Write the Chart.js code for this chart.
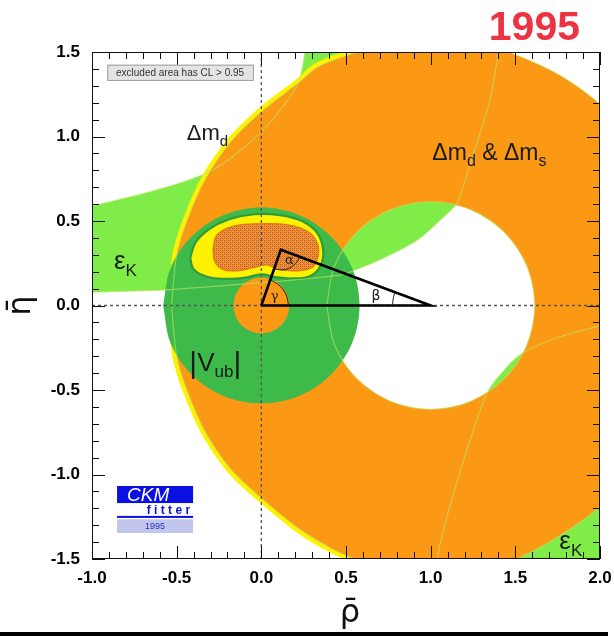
<!DOCTYPE html>
<html>
<head>
<meta charset="utf-8">
<style>
  html, body { margin: 0; padding: 0; background: #ffffff; }
  canvas { display: block; }
</style>
<script src="https://cdn.jsdelivr.net/npm/chart.js@4.4.1/dist/chart.umd.min.js"></script>
</head>
<body>
<canvas id="ckm" width="614" height="636"></canvas>
<script>
// ---- axis ticks -------------------------------------------------------------
const rhoTicks = [-1.0, -0.5, 0.0, 0.5, 1.0, 1.5, 2.0];
const etaTicks = [-1.5, -1.0, -0.5, 0.0, 0.5, 1.0, 1.5];

// ---- constraint contours in the (rho-bar, eta-bar) plane, as [rho, eta] -------
// epsilon_K band, eta > 0 branch: upper edge (left -> top), lower edge (top -> left)
const epsKUpperEdgeA = [[-1.10,0.57],[-1.00,0.59],[-0.85,0.625],[-0.65,0.675],[-0.45,0.735],
  [-0.29,0.80],[-0.12,0.92],[0.03,1.06],[0.13,1.18],[0.217,1.316],[0.258,1.50],[0.265,1.60]];
const epsKLowerEdgeA = [[1.41,1.60],[1.392,1.446],[1.351,1.216],[1.321,1.115],[1.26,0.92],
  [1.203,0.742],[1.156,0.606],[1.056,0.505],[0.92,0.386],[0.72,0.28],[0.524,0.198],[0.465,0.18],
  [0.20,0.152],[0.00,0.135],[-0.30,0.112],[-0.57,0.092],[-1.00,0.078],[-1.10,0.075]];
// epsilon_K band, eta < 0 branch: inner edge and the far corner
const epsKUpperEdgeB = [[2.20,-0.08],[2.00,-0.12],[1.764,-0.185],[1.546,-0.28],[1.44,-0.375],
  [1.333,-0.518],[1.233,-0.796],[1.13,-1.13],[1.07,-1.35],[1.036,-1.516],[1.025,-1.62]];
const epsKCornerB = [[2.20,-1.62]];

// Delta m_d alone: outer edge and inner edge of the visible rim
const dmdOuter = [[-0.555,0],[-0.525,-0.305],[-0.464,-0.508],[-0.352,-0.762],[-0.199,-0.986],
  [-0.017,-1.159],[0.207,-1.341],[0.39,-1.453],[0.543,-1.524],[0.797,-1.605],[1.05,-1.60],
  [1.30,-1.56],[1.50,-1.48],[1.73,-1.35],[1.98,-1.17],[2.28,-0.84],[2.48,-0.44],[2.54,0],
  [2.48,0.44],[2.28,0.84],[1.98,1.17],[1.73,1.35],[1.44,1.48],[1.20,1.56],[0.90,1.57],
  [0.563,1.524],[0.324,1.436],[0.204,1.337],[-0.017,1.166],[-0.199,0.986],[-0.352,0.762],
  [-0.464,0.508],[-0.525,0.305],[-0.555,0]];
const dmdInner = [[-0.48,0],[-0.366,0.574],[-0.041,1.061],[0.446,1.386],[1.02,1.50],[1.594,1.386],
  [2.081,1.061],[2.406,0.574],[2.52,0],[2.406,-0.574],[2.081,-1.061],[1.594,-1.386],[1.02,-1.50],
  [0.446,-1.386],[-0.041,-1.061],[-0.366,-0.574],[-0.48,0]];

// Delta m_d & Delta m_s: outer edge and the excluded hole around (1, 0)
const dmOuter = [[-0.53,0],[-0.50,-0.30],[-0.44,-0.50],[-0.33,-0.75],[-0.18,-0.97],[0.0,-1.14],
  [0.22,-1.32],[0.40,-1.43],[0.55,-1.50],[0.80,-1.58],[1.05,-1.62],[1.30,-1.58],[1.51,-1.50],
  [1.75,-1.37],[2.0,-1.19],[2.3,-0.85],[2.5,-0.45],[2.56,0],[2.5,0.45],[2.3,0.85],[2.0,1.19],
  [1.75,1.37],[1.46,1.50],[1.20,1.58],[0.90,1.585],[0.57,1.50],[0.335,1.413],[0.217,1.316],
  [0.0,1.147],[-0.18,0.97],[-0.33,0.75],[-0.44,0.50],[-0.50,0.30],[-0.53,0]];
const dmHole = [[0.386,0],[0.433,0.235],[0.566,0.434],[0.765,0.567],[1.0,0.614],[1.235,0.567],
  [1.434,0.434],[1.567,0.235],[1.614,0],[1.567,-0.235],[1.434,-0.434],[1.235,-0.567],[1.0,-0.614],
  [0.765,-0.567],[0.566,-0.434],[0.433,-0.235],[0.386,0]];

// |Vub| ring around the origin
const vubOuter = [[-0.58,0],[-0.536,-0.222],[-0.41,-0.41],[-0.222,-0.536],[0,-0.58],[0.222,-0.536],
  [0.41,-0.41],[0.536,-0.222],[0.58,0],[0.536,0.222],[0.41,0.41],[0.222,0.536],[0,0.58],
  [-0.222,0.536],[-0.41,0.41],[-0.536,0.222],[-0.58,0]];
const vubInner = [[-0.165,0],[-0.152,0.063],[-0.117,0.117],[-0.063,0.152],[0,0.165],[0.063,0.152],
  [0.117,0.117],[0.152,0.063],[0.165,0],[0.152,-0.063],[0.117,-0.117],[0.063,-0.152],[0,-0.165],
  [-0.063,-0.152],[-0.117,-0.117],[-0.152,-0.063],[-0.165,0]];

// global fit: 95% CL (yellow) and 68% CL (hatched) regions
const fitCL95 = [[-0.42,0.28],[-0.39,0.37],[-0.31,0.45],[-0.19,0.51],[-0.04,0.54],[0.11,0.535],
  [0.24,0.50],[0.33,0.43],[0.365,0.33],[0.35,0.235],[0.29,0.175],[0.18,0.16],[0.08,0.168],
  [0.0,0.185],[-0.09,0.165],[-0.21,0.158],[-0.32,0.17],[-0.40,0.215],[-0.42,0.28]];
const fitCL68 = [[-0.285,0.34],[-0.26,0.42],[-0.16,0.47],[0.0,0.483],[0.15,0.478],[0.27,0.44],
  [0.33,0.37],[0.335,0.29],[0.30,0.225],[0.20,0.205],[0.10,0.215],[0.03,0.24],[-0.04,0.225],
  [-0.14,0.205],[-0.23,0.215],[-0.275,0.26],[-0.285,0.34]];

// unitarity triangle and its angle markers
const triangle = [[0,0],[1,0],[0.115,0.33],[0,0]];
const gammaArc = [[0.16,0],[0.152,0.049],[0.129,0.094],[0.094,0.129],[0.0526,0.151]];
const alphaArc = [[0.0755,0.217],[0.1213,0.2102],[0.1657,0.2212],[0.2028,0.2482],[0.2274,0.288]];
const betaArc  = [[0.789,0.0788],[0.7817,0.0544],[0.7767,0.0274],[0.775,0]];

// ---- colours ----------------------------------------------------------------
const LIGHT_GREEN = '#7FEC47';
const DARK_GREEN  = '#3DBA4A';
const ORANGE      = '#FB9914';
const YELLOW      = '#FFF200';
const CONTOUR     = 'rgba(190,232,100,0.6)';
const FONT        = "'Liberation Sans', Arial, Helvetica, sans-serif";

const P = pts => pts.map(([x, y]) => ({x, y}));
// outer loop + inner loop (opposite winding) so the inner area stays empty
const ring = (outer, inner) => [...outer, outer[outer.length - 1], inner[0], ...inner];

function hatchPattern() {
  const c = document.createElement('canvas');
  c.width = 4; c.height = 4;
  const g = c.getContext('2d');
  g.fillStyle = '#F39836';
  g.fillRect(0, 0, 4, 4);
  g.fillStyle = '#C4582C';
  g.fillRect(0, 0, 1, 1); g.fillRect(2, 2, 1, 1);
  g.fillRect(2, 0, 1, 1); g.fillRect(0, 2, 1, 1);
  g.fillStyle = '#DA7430';
  g.fillRect(1, 1, 1, 1); g.fillRect(3, 3, 1, 1);
  return g.createPattern(c, 'repeat');
}

const base = { showLine: true, pointRadius: 0, pointHoverRadius: 0, tension: 0.34,
               borderWidth: 0, fill: false, clip: 0 };
const dash = { borderDash: [3, 3], borderWidth: 1.6, borderColor: '#555', tension: 0 };

const datasets = [
  { ...base, order: 30, data: P([...epsKUpperEdgeA, ...epsKLowerEdgeA]), fill: 'shape', backgroundColor: LIGHT_GREEN, tension: 0.3 },
  { ...base, order: 29, data: P([...epsKUpperEdgeB, ...epsKCornerB]), fill: 'shape', backgroundColor: LIGHT_GREEN, tension: 0.3 },
  { ...base, order: 28, data: P(ring(dmdOuter, dmdInner)), fill: 'shape', backgroundColor: YELLOW, tension: 0.3 },
  { ...base, order: 27, data: P(ring(dmOuter, dmHole)), fill: 'shape', backgroundColor: ORANGE, tension: 0.3 },
  { ...base, order: 26, data: P(ring(vubOuter, vubInner)), fill: 'shape', backgroundColor: DARK_GREEN },
  { ...base, order: 25, data: P(fitCL95), fill: 'shape', backgroundColor: YELLOW, borderWidth: 2.2, borderColor: '#2F9A3E', tension: 0.4 },
  { ...base, order: 24, data: P(fitCL68), fill: 'shape', backgroundColor: hatchPattern(), borderWidth: 1.3, borderColor: '#E0781E', tension: 0.4 },
  { ...base, order: 23, data: P(dmOuter), borderWidth: 1.2, borderColor: CONTOUR, tension: 0.3 },
  { ...base, order: 22, data: P(dmHole), borderWidth: 1.2, borderColor: CONTOUR },
  { ...base, order: 21, data: P(epsKUpperEdgeA), borderWidth: 1.2, borderColor: CONTOUR, tension: 0.3 },
  { ...base, order: 20, data: P(epsKLowerEdgeA), borderWidth: 1.2, borderColor: CONTOUR, tension: 0.3 },
  { ...base, order: 19, data: P(epsKUpperEdgeB), borderWidth: 1.2, borderColor: CONTOUR, tension: 0.3 },
  { ...base, ...dash, order: 18, data: P([[-1, 0], [2, 0]]) },
  { ...base, ...dash, order: 17, data: P([[0, -1.5], [0, 1.5]]), borderWidth: 1.3 },
  { ...base, order: 16, data: P(triangle), borderWidth: 2.6, borderColor: '#000', tension: 0 },
  { ...base, order: 15, data: P(gammaArc), borderWidth: 1, borderColor: '#222' },
  { ...base, order: 14, data: P(alphaArc), borderWidth: 1, borderColor: '#222' },
  { ...base, order: 13, data: P(betaArc), borderWidth: 1, borderColor: '#222' }
];

// text made of runs: [text, font, vertical offset]
function runs(ctx, x0, y0, parts) {
  let cx = x0;
  for (const [t, f, dy] of parts) {
    ctx.font = f;
    ctx.fillText(t, cx, y0 + dy);
    cx += ctx.measureText(t).width;
  }
}

const decorations = {
  id: 'decorations',
  beforeDraw(chart) {
    const {ctx, width, height} = chart;
    ctx.save();
    ctx.fillStyle = '#ffffff';
    ctx.fillRect(0, 0, width, height);
    ctx.restore();
  },
  afterDraw(chart) {
    const {ctx, chartArea: a, scales: {x, y}} = chart;
    const X = v => x.getPixelForValue(v), Y = v => y.getPixelForValue(v);
    ctx.save();

    // frame and inward ticks on all four sides
    ctx.strokeStyle = '#111';
    ctx.lineWidth = 1;
    ctx.strokeRect(a.left + 0.5, a.top + 0.5, a.width - 1, a.height - 1);
    ctx.beginPath();
    for (let k = 0; k <= 30; k++) {
      const L = k % 5 === 0 ? 13 : 7;
      const px = Math.round(X(rhoTicks[0] + k * 0.1)) + 0.5;
      ctx.moveTo(px, a.top); ctx.lineTo(px, a.top + L);
      ctx.moveTo(px, a.bottom); ctx.lineTo(px, a.bottom - L);
      const py = Math.round(Y(etaTicks[0] + k * 0.1)) + 0.5;
      ctx.moveTo(a.left, py); ctx.lineTo(a.left + L, py);
      ctx.moveTo(a.right, py); ctx.lineTo(a.right - L, py);
    }
    ctx.stroke();

    ctx.textBaseline = 'alphabetic';
    ctx.textAlign = 'left';

    // CL note
    const bx0 = X(-0.91), bx1 = X(-0.05), by0 = Y(1.425), by1 = Y(1.335);
    ctx.fillStyle = '#E4E4E4';
    ctx.fillRect(bx0, by0, bx1 - bx0, by1 - by0);
    ctx.strokeStyle = '#9A9A9A';
    ctx.strokeRect(bx0 + 0.5, by0 + 0.5, bx1 - bx0, by1 - by0);
    ctx.fillStyle = '#333';
    ctx.font = `10px ${FONT}`;
    ctx.textAlign = 'center';
    ctx.fillText('excluded area has CL > 0.95', (bx0 + bx1) / 2, by1 - 4);
    ctx.textAlign = 'left';

    // constraint labels
    ctx.fillStyle = '#1a1a1a';
    runs(ctx, X(-0.44), Y(0.98), [['Δm', `22px ${FONT}`, 0], ['d', `15px ${FONT}`, 6]]);
    runs(ctx, X(1.01), Y(0.86), [['Δm', `23px ${FONT}`, 0], ['d', `16px ${FONT}`, 6],
                                 [' & Δm', `23px ${FONT}`, 0], ['s', `16px ${FONT}`, 6]]);
    runs(ctx, X(-0.87), Y(0.215), [['ε', `26px ${FONT}`, 0], ['K', `17px ${FONT}`, 7]]);
    runs(ctx, X(1.76), Y(-1.44), [['ε', `26px ${FONT}`, 0], ['K', `17px ${FONT}`, 7]]);
    runs(ctx, X(-0.425), Y(-0.39), [['|', `30px ${FONT}`, 2], ['V', `26px ${FONT}`, 0],
                                    ['ub', `17px ${FONT}`, 6], ['|', `30px ${FONT}`, 2]]);

    // triangle angles
    ctx.fillStyle = '#222';
    ctx.font = `13px 'DejaVu Serif', serif`;
    ctx.fillText('α', X(0.14), Y(0.245));
    ctx.fillText('γ', X(0.055), Y(0.035));
    ctx.font = `14px 'DejaVu Sans', sans-serif`;
    ctx.fillText('β', X(0.65), Y(0.035));

    // CKMfitter tag
    const lx0 = X(-0.852), lx1 = X(-0.403);
    ctx.fillStyle = '#0A10E0';
    ctx.fillRect(lx0, Y(-1.068), lx1 - lx0, Y(-1.169) - Y(-1.068));
    ctx.fillStyle = '#ffffff';
    ctx.font = `italic 19px ${FONT}`;
    ctx.fillText('CKM', lx0 + 10, Y(-1.158));
    ctx.fillStyle = '#0A10E0';
    ctx.fillRect(lx0, Y(-1.245), lx1 - lx0, 2);
    ctx.font = `bold 12px ${FONT}`;
    ctx.textAlign = 'right';
    ctx.fillText('f i t t e r', lx1 - 3, Y(-1.232));
    ctx.textAlign = 'left';
    ctx.fillStyle = '#C3C6EC';
    ctx.fillRect(lx0, Y(-1.265), lx1 - lx0, Y(-1.346) - Y(-1.265));
    ctx.fillStyle = '#2430B8';
    ctx.font = `9px ${FONT}`;
    ctx.textAlign = 'center';
    ctx.fillText('1995', (lx0 + lx1) / 2, Y(-1.322));

    // year
    ctx.fillStyle = '#EC3341';
    ctx.font = `bold 41px ${FONT}`;
    ctx.textAlign = 'right';
    ctx.fillText('1995', 580, 40);

    // axis titles
    ctx.fillStyle = '#111';
    ctx.textAlign = 'center';
    ctx.font = `32px 'DejaVu Sans', sans-serif`;
    ctx.fillText('ρ\u0304', (a.left + a.right) / 2 + 4, 622);
    ctx.translate(30, Y(0));
    ctx.rotate(-Math.PI / 2);
    ctx.fillText('η\u0304', 0, 0);
    ctx.restore();

    // rule along the lower edge of the page
    ctx.save();
    ctx.fillStyle = '#000';
    ctx.fillRect(0, 632, 608, 4);
    ctx.restore();
  }
};

const tickFont = { family: FONT, size: 17, weight: 'bold' };

new Chart(document.getElementById('ckm'), {
  type: 'scatter',
  data: { datasets },
  options: {
    responsive: false,
    animation: false,
    devicePixelRatio: 1,
    events: [],
    layout: { padding: { top: 52, right: 14, left: 0, bottom: 0 } },
    elements: { point: { radius: 0 }, line: { capBezierPoints: false } },
    plugins: { legend: { display: false }, tooltip: { enabled: false }, title: { display: false } },
    scales: {
      x: {
        type: 'linear', min: -1, max: 2,
        afterBuildTicks: s => { s.ticks = rhoTicks.map(v => ({ value: v })); },
        afterFit: s => { s.height = 77; s.paddingLeft = 0; s.paddingRight = 0; },
        ticks: { callback: v => Number(v).toFixed(1), font: tickFont, color: '#000', padding: 9, autoSkip: false, maxRotation: 0 },
        grid: { display: false, drawTicks: false },
        border: { display: false }
      },
      y: {
        type: 'linear', min: -1.5, max: 1.5,
        afterBuildTicks: s => { s.ticks = etaTicks.map(v => ({ value: v })); },
        afterFit: s => { s.width = 92; s.paddingTop = 0; s.paddingBottom = 0; },
        ticks: { callback: v => Number(v).toFixed(1), font: tickFont, color: '#000', padding: 12, autoSkip: false },
        grid: { display: false, drawTicks: false },
        border: { display: false }
      }
    }
  },
  plugins: [decorations]
});
</script>
</body>
</html>
